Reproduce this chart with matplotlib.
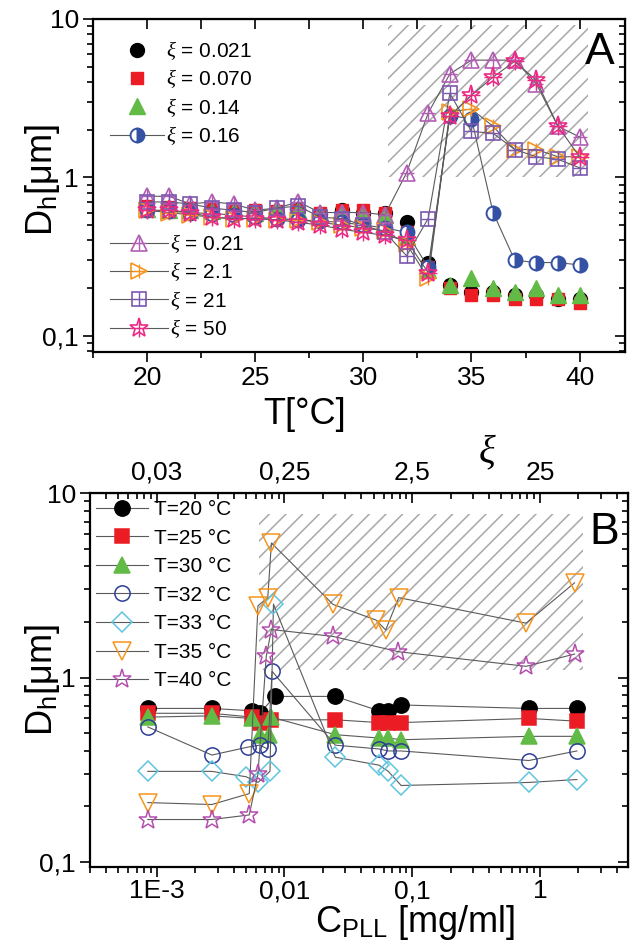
"""
Two-panel DLS figure: hydrodynamic diameter D_h vs temperature (A) and vs PLL
concentration (B). Values read off the reference picture.
"""
import matplotlib
matplotlib.use("Agg")
import matplotlib.pyplot as plt
from matplotlib.lines import Line2D
from matplotlib.patches import Rectangle
from matplotlib.legend_handler import HandlerTuple
from matplotlib.ticker import FixedLocator, LogLocator, NullFormatter, MultipleLocator

plt.rcParams['font.family'] = ['Liberation Sans', 'DejaVu Sans']
plt.rcParams['mathtext.fontset'] = 'custom'
plt.rcParams['mathtext.rm'] = 'Liberation Sans'
plt.rcParams['mathtext.it'] = 'Liberation Serif:italic'
plt.rcParams['hatch.linewidth'] = 1.1

# ── Panel A data: D_h [um] vs T [C] for several xi ───────────────────────────
temps = [20, 21, 22, 23, 24, 25, 26, 27, 28, 29, 30,
         31, 32, 33, 34, 35, 36, 37, 38, 39, 40]
xi_021 = [0.65, 0.64, 0.63, 0.62, 0.62, 0.60, 0.60, 0.62, 0.59, 0.62, 0.60,
          0.60, 0.52, 0.29, 0.21, 0.19, 0.19, 0.18, 0.18, 0.17, 0.17]
xi_070 = [0.66, 0.65, 0.64, 0.64, 0.63, 0.62, 0.61, 0.62, 0.60, 0.62, 0.62,
          0.60, 0.45, 0.27, 0.20, 0.18, 0.18, 0.17, 0.17, 0.17, 0.16]
xi_14 = [0.63, 0.62, 0.62, 0.61, 0.61, 0.60, 0.62, 0.62, 0.60, 0.60, 0.58,
         0.58, 0.42, 0.26, 0.21, 0.23, 0.20, 0.19, 0.20, 0.18, 0.18]
xi_16 = [0.62, 0.61, 0.60, 0.59, 0.58, 0.56, 0.55, 0.54, 0.53, 0.52, 0.50,
         0.48, 0.45, 0.27, 2.45, 2.35, 0.60, 0.30, 0.29, 0.29, 0.28]
xi_21 = [0.76, 0.76, 0.68, 0.70, 0.68, 0.62, 0.64, 0.70, 0.60, 0.60, 0.60,
         0.58, 1.07, 2.55, 4.5, 5.5, 5.5, 5.5, 3.9, 2.1, 1.8]
xi_2p1 = [0.62, 0.60, 0.58, 0.56, 0.55, 0.55, 0.54, 0.54, 0.52, 0.50, 0.48,
          0.46, 0.38, 0.23, 2.6, 2.7, 2.1, 1.5, 1.5, 1.35, 1.35]
xi_21b = [0.70, 0.70, 0.68, 0.64, 0.62, 0.60, 0.64, 0.66, 0.56, 0.55, 0.50,
          0.45, 0.32, 0.55, 3.4, 1.95, 1.9, 1.5, 1.35, 1.3, 1.15]
xi_50 = [0.62, 0.62, 0.60, 0.56, 0.55, 0.55, 0.54, 0.52, 0.50, 0.47, 0.45,
         0.43, 0.40, 0.25, 2.45, 3.3, 4.3, 5.4, 4.1, 2.1, 1.35]

# ── Panel B data: D_h [um] vs C_PLL [mg/ml] for several T ───────────────────
c_t20 = [8.5e-4, 2.7e-3, 5.6e-3, 6.4e-3, 8.4e-3, 0.025, 0.055, 0.065, 0.082, 0.82, 1.95]
d_t20 = [0.68, 0.68, 0.66, 0.64, 0.79, 0.79, 0.66, 0.66, 0.71, 0.68, 0.68]
c_t25 = [8.5e-4, 2.7e-3, 5.6e-3, 6.4e-3, 7.9e-3, 0.025, 0.055, 0.065, 0.082, 0.82, 1.95]
d_t25 = [0.64, 0.64, 0.61, 0.57, 0.59, 0.59, 0.57, 0.57, 0.57, 0.60, 0.58]
c_t30 = [8.5e-4, 2.7e-3, 5.6e-3, 6.4e-3, 7.6e-3, 7.9e-3, 0.025, 0.055, 0.065, 0.082, 0.82, 1.95]
d_t30 = [0.61, 0.62, 0.60, 0.49, 0.49, 0.61, 0.49, 0.47, 0.47, 0.46, 0.48, 0.48]
c_t32 = [8.5e-4, 2.7e-3, 5.2e-3, 6.4e-3, 7.4e-3, 8.0e-3, 0.025, 0.055, 0.065, 0.082, 0.82, 1.95]
d_t32 = [0.54, 0.38, 0.42, 0.43, 0.41, 1.08, 0.43, 0.41, 0.40, 0.40, 0.355, 0.40]
c_t33 = [8.5e-4, 2.7e-3, 5.0e-3, 6.2e-3, 7.7e-3, 8.2e-3, 0.025, 0.055, 0.065, 0.082, 0.82, 1.95]
d_t33 = [0.31, 0.31, 0.29, 0.27, 0.31, 2.5, 0.37, 0.335, 0.31, 0.26, 0.27, 0.28]
c_t35 = [8.5e-4, 2.7e-3, 5.3e-3, 6.2e-3, 7.4e-3, 7.9e-3, 0.024, 0.052, 0.062, 0.0785, 0.78, 1.87]
d_t35 = [0.21, 0.205, 0.235, 2.45, 2.71, 5.36, 2.49, 2.05, 1.81, 2.71, 1.97, 3.26]
c_t40 = [8.5e-4, 2.7e-3, 5.3e-3, 6.2e-3, 7.2e-3, 7.9e-3, 0.024, 0.078, 0.78, 1.87]
d_t40 = [0.17, 0.17, 0.18, 0.30, 1.30, 1.82, 1.67, 1.38, 1.15, 1.34]

xi_top_labels = ['0,03', '0,25', '2,5', '25']

# ── Layout (pixel geometry of the 631x949 reference) ────────────────────────
W, H = 631, 949
LINE = '#5a5a5a'
HATCH = '#a8a8a8'


def fx(px):
    return px / W


def fy(py):
    return 1 - py / H


def style_log_y(ax):
    ax.set_yscale('log')
    ax.yaxis.set_major_locator(FixedLocator([0.1, 1, 10]))
    ax.set_yticklabels(['0,1', '1', '10'])
    ax.yaxis.set_minor_locator(LogLocator(base=10, subs=range(2, 10)))
    ax.yaxis.set_minor_formatter(NullFormatter())


def frame(ax):
    for s in ax.spines.values():
        s.set_linewidth(1.6)
    ax.tick_params(which='both', labelsize=19, width=1.2, direction='out',
                   top=False, right=False)
    ax.tick_params(which='major', length=7, pad=3)
    ax.tick_params(which='minor', length=4)


def inner_right(ax):
    r = ax.secondary_yaxis('right')
    r.yaxis.set_major_locator(FixedLocator([0.1, 1, 10]))
    r.yaxis.set_minor_locator(LogLocator(base=10, subs=range(2, 10)))
    r.tick_params(which='both', direction='in', labelright=False, width=1.2)
    r.tick_params(which='major', length=7)
    r.tick_params(which='minor', length=4)
    return r


fig = plt.figure(figsize=(W / 100, H / 100), dpi=100)

# ── Panel A ─────────────────────────────────────────────────────────────────
axA = fig.add_axes([fx(93), fy(352), fx(625) - fx(93), fy(19) - fy(352)])
style_log_y(axA)
axA.set_xlim(17.5, 42.1)
axA.set_ylim(0.079, 10)
axA.xaxis.set_major_locator(FixedLocator([20, 25, 30, 35, 40]))
axA.xaxis.set_minor_locator(MultipleLocator(2.5))
frame(axA)

axA.add_patch(Rectangle((31.15, 1.0), 40.4 - 31.15, 9.2 - 1.0, fill=False,
                        hatch='//', edgecolor=HATCH, lw=0, zorder=0))

BLACK, RED, GREEN, BLUE = 'black', '#ec1c24', '#62bb46', '#3451a3'
PURP, ORNG, VIOL, PINK = '#b25db4', '#f7941d', '#7b58b0', '#ec2a85'

kw = dict(ls='none', zorder=3)
axA.plot(temps, xi_021, 'o', color=BLACK, ms=10, **kw)
axA.plot(temps, xi_070, 's', color=RED, ms=9, **kw)
axA.plot(temps, xi_14, '^', color=GREEN, ms=11, **kw)
axA.plot(temps, xi_16, '-o', color=LINE, lw=0.8, ms=10, mec=BLUE, mfc=BLUE,
         mfcalt='white', fillstyle='right', mew=1.4, zorder=3)

open_series = [(xi_21, '^', PURP, 11), (xi_2p1, '>', ORNG, 11),
               (xi_21b, 's', VIOL, 10), (xi_50, '*', PINK, 14)]
for vals, mk, col, ms in open_series:
    axA.plot(temps, vals, '-', marker=mk, color=LINE, lw=0.8, ms=ms, mec=col,
             mfc='none', mew=1.2, zorder=3)
    axA.plot(temps, vals, '+', color=col, ms=ms * 0.95, mew=1.0, ls='none', zorder=3)

h1 = [Line2D([], [], ls='none', marker='o', color=BLACK, ms=10),
      Line2D([], [], ls='none', marker='s', color=RED, ms=9),
      Line2D([], [], ls='none', marker='^', color=GREEN, ms=11),
      Line2D([], [], color=LINE, lw=0.8, marker='o', ms=10, mec=BLUE, mfc=BLUE,
             mfcalt='white', fillstyle='right', mew=1.4)]
l1 = [r'$\xi$ = 0.021', r'$\xi$ = 0.070', r'$\xi$ = 0.14', r'$\xi$ = 0.16']
leg1 = axA.legend(h1, l1, loc='upper left', bbox_to_anchor=(fx(110), fy(39)),
                  bbox_transform=fig.transFigure, frameon=False, fontsize=15,
                  handlelength=2.6, handletextpad=0.1, labelspacing=0.26,
                  borderpad=0, borderaxespad=0)
axA.add_artist(leg1)

h2 = []
for vals, mk, col, ms in open_series:
    h2.append((Line2D([], [], color=LINE, lw=0.8, marker=mk, ms=ms, mec=col,
                      mfc='none', mew=1.2),
               Line2D([], [], ls='none', marker='+', color=col, ms=ms * 0.95, mew=1.0)))
l2 = [r'$\xi$ = 0.21', r'$\xi$ = 2.1', r'$\xi$ = 21', r'$\xi$ = 50']
axA.legend(h2, l2, loc='upper left', bbox_to_anchor=(fx(110), fy(232)),
           bbox_transform=fig.transFigure, frameon=False, fontsize=15,
           handlelength=2.8, handletextpad=0.1, labelspacing=0.26,
           borderpad=0, borderaxespad=0,
           handler_map={tuple: HandlerTuple(ndivide=1, pad=0)})

topA = axA.secondary_xaxis('top')
topA.xaxis.set_major_locator(MultipleLocator(5))
topA.xaxis.set_minor_locator(MultipleLocator(2.5))
topA.tick_params(which='both', direction='in', labeltop=False, length=7, width=1.2)
inner_right(axA)

fig.text(fx(600), fy(52), 'A', fontsize=32, ha='center', va='center')
fig.text(fx(305), fy(415), 'T[°C]', fontsize=26, ha='center', va='center')
fig.text(fx(42), fy(180), r'D$_\mathregular{h}$[μm]', fontsize=26, rotation=90,
         ha='center', va='center')

# ── Panel B ─────────────────────────────────────────────────────────────────
axB = fig.add_axes([fx(90), fy(867), fx(628) - fx(90), fy(493) - fy(867)])
axB.set_xscale('log')
style_log_y(axB)
axB.set_xlim(3.0e-4, 4.9)
axB.set_ylim(0.094, 10)
axB.xaxis.set_major_locator(FixedLocator([1e-3, 1e-2, 1e-1, 1]))
axB.set_xticklabels(['1E-3', '0,01', '0,1', '1'])
axB.xaxis.set_minor_locator(LogLocator(base=10, subs=range(2, 10)))
axB.xaxis.set_minor_formatter(NullFormatter())
frame(axB)
axB.tick_params(axis='x', which='major', pad=2)

axB.add_patch(Rectangle((6.3e-3, 1.1), 2.16 - 6.3e-3, 7.7 - 1.1, fill=False,
                        hatch='//', edgecolor=HATCH, lw=0, zorder=0))

CBLUE, CYAN, CORNG, CSTAR = '#2e3d98', '#5ec6e0', '#f7941d', '#b44fb0'
series_b = [
    (c_t20, d_t20, 'o', BLACK, BLACK, 11, 'T=20 °C'),
    (c_t25, d_t25, 's', RED, RED, 10, 'T=25 °C'),
    (c_t30, d_t30, '^', GREEN, GREEN, 12, 'T=30 °C'),
    (c_t32, d_t32, 'o', CBLUE, 'none', 11, 'T=32 °C'),
    (c_t33, d_t33, 'D', CYAN, 'none', 10, 'T=33 °C'),
    (c_t35, d_t35, 'v', CORNG, 'none', 13, 'T=35 °C'),
    (c_t40, d_t40, '*', CSTAR, 'none', 14, 'T=40 °C'),
]
hb = []
for cx, dy, mk, col, fc, ms, lab in series_b:
    axB.plot(cx, dy, '-', marker=mk, color=LINE, lw=0.8, ms=ms, mec=col, mfc=fc,
             mew=1.1, zorder=3)
    hb.append(Line2D([], [], color=LINE, lw=0.8, marker=mk, ms=ms, mec=col,
                     mfc=fc, mew=1.1))
axB.legend(hb, [s[-1] for s in series_b], loc='upper left',
           bbox_to_anchor=(fx(96), fy(500)), bbox_transform=fig.transFigure,
           frameon=False, fontsize=15, handlelength=2.5, handletextpad=0.3,
           labelspacing=0.46, borderpad=0, borderaxespad=0)

topB = axB.secondary_xaxis('top')
topB.xaxis.set_major_locator(FixedLocator([1e-3, 1e-2, 1e-1, 1]))
topB.set_xticklabels(xi_top_labels)
topB.xaxis.set_minor_locator(LogLocator(base=10, subs=range(2, 10)))
topB.xaxis.set_minor_formatter(NullFormatter())
topB.tick_params(which='both', direction='in', labelsize=19, width=1.2, pad=6)
topB.tick_params(which='major', length=7)
topB.tick_params(which='minor', length=4)
inner_right(axB)

fig.text(fx(487), fy(452), r'$\xi$', fontsize=28, ha='center', va='center')
fig.text(fx(604), fy(532), 'B', fontsize=32, ha='center', va='center')
fig.text(fx(415), fy(922), r'C$_\mathregular{PLL}$ [mg/ml]', fontsize=26,
         ha='center', va='center')
fig.text(fx(42), fy(680), r'D$_\mathregular{h}$[μm]', fontsize=26, rotation=90,
         ha='center', va='center')

fig.savefig('out.png', dpi=100)
